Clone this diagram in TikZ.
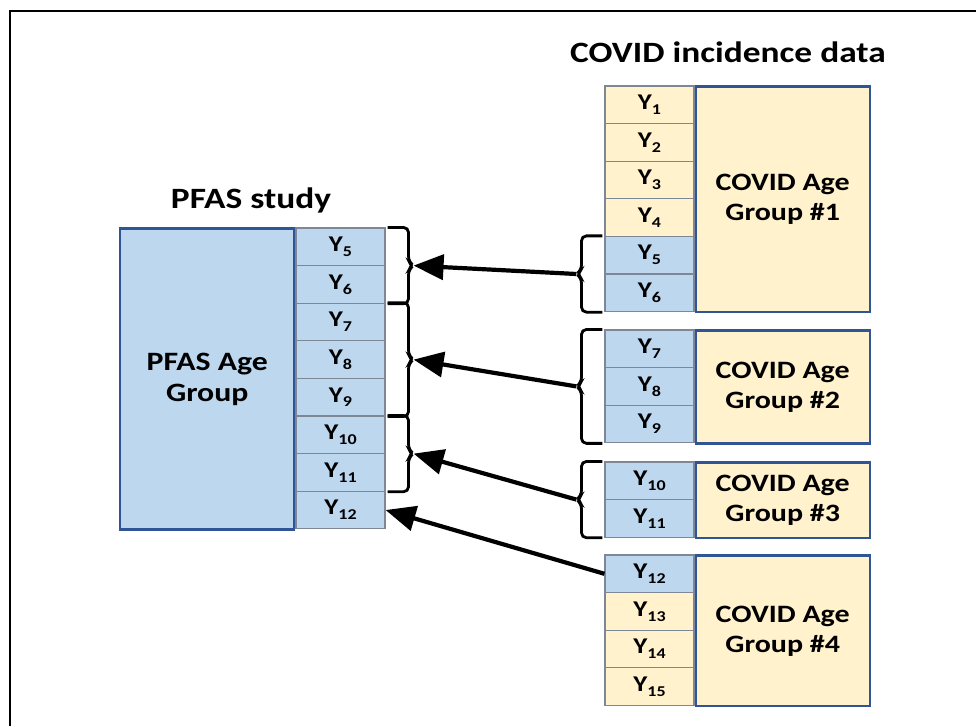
\documentclass[tikz,border=0pt]{standalone}
\usepackage{fontspec}
\setmainfont{Carlito}[FakeStretch=1.2]
\usepackage{tikz}
\usetikzlibrary{calc,arrows.meta}
\definecolor{cellblue}{RGB}{189,215,238}
\definecolor{cellyel}{RGB}{255,242,204}
\definecolor{boxedge}{RGB}{47,85,151}
\definecolor{celledge}{RGB}{125,135,150}
\newcommand\ylab[1]{Y\raisebox{-0.45ex}{\fontsize{15}{15}\selectfont #1}}

\begin{document}
\begin{tikzpicture}[x=1pt,y=-1pt,
  cell/.style={draw=celledge,line width=1.1pt,minimum width=89pt,minimum height=37.6pt,
    inner sep=0pt,font=\fontsize{22.5}{23}\selectfont\bfseries},
  bigbox/.style={draw=boxedge,line width=2.4pt,fill=cellyel,inner sep=0pt,align=center,
    minimum width=174pt,font=\fontsize{25}{30}\selectfont\bfseries},
  title/.style={font=\fontsize{29.5}{32}\selectfont\bfseries},
  brk/.style={line width=2.8pt,rounded corners=5pt},
  link/.style={line width=4.2pt,-{Triangle[length=30pt,width=25pt]}}]
  \useasboundingbox (0,0) rectangle (976,726);
  \draw[line width=2pt] (10,726) -- (10,11) -- (976,11);
  \node[title] (pfast) at (251,200) {PFAS study};
  \node[title] (covt) at (728,52) {COVID incidence data};
  \foreach \n [count=\i from 0] in {5,...,12}
    \node[cell,fill=cellblue] (p\n) at (340.5,{246.8+37.6*\i}) {\ylab{\n}};
  \foreach \n/\yy/\c in {1/104.8/cellyel,2/142.4/cellyel,3/180/cellyel,4/217.6/cellyel,
      5/255.2/cellblue,6/292.8/cellblue,7/348.8/cellblue,8/386.4/cellblue,9/424/cellblue,
      10/480.8/cellblue,11/518.4/cellblue,12/573.8/cellblue,13/611.4/cellyel,
      14/649/cellyel,15/686.6/cellyel}
    \node[cell,fill=\c] (c\n) at (649.5,\yy) {\ylab{\n}};
  \node[bigbox,fill=cellblue,anchor=north east,minimum height=300.8pt,font=\fontsize{26.5}{31}\selectfont\bfseries] (pfas) at (p5.north west) {PFAS Age\\Group};
  \node[bigbox,anchor=north west,minimum height=225.6pt] (g1) at (c1.north east) {COVID Age\\Group \#1};
  \node[bigbox,anchor=north west,minimum height=112.8pt] (g2) at (c7.north east) {COVID Age\\Group \#2};
  \node[bigbox,anchor=north west,minimum height=75.2pt] (g3) at (c10.north east) {COVID Age\\Group \#3};
  \node[bigbox,anchor=north west,minimum height=150.4pt] (g4) at (c12.north east) {COVID Age\\Group \#4};
  \foreach \a/\b/\k in {p5/p6/1,p7/p9/2,p10/p11/3}{
    \coordinate (tl\k) at ($(\a.north east)!0.5!(\b.south east)+(28,0)$);
    \draw[brk] ($(\a.north east)+(2,0)$) -| ($(tl\k)+(-5,-4)$) -- (tl\k) -- ($(tl\k)+(-5,4)$) |- ($(\b.south east)+(2,0)$);
  }
  \foreach \a/\b/\k in {c5/c6/1,c7/c9/2,c10/c11/3}{
    \coordinate (tr\k) at ($(\a.north west)!0.5!(\b.south west)+(-28,0)$);
    \draw[brk] ($(\a.north west)+(-2,0)$) -| ($(tr\k)+(5,-4)$) -- (tr\k) -- ($(tr\k)+(5,4)$) |- ($(\b.south west)+(-2,0)$);
  }
  \foreach \k in {1,2,3}
    \draw[link] (tr\k) -- (tl\k);
  \draw[link] (c12.west) -- (p12.east);
\end{tikzpicture}
\end{document}
